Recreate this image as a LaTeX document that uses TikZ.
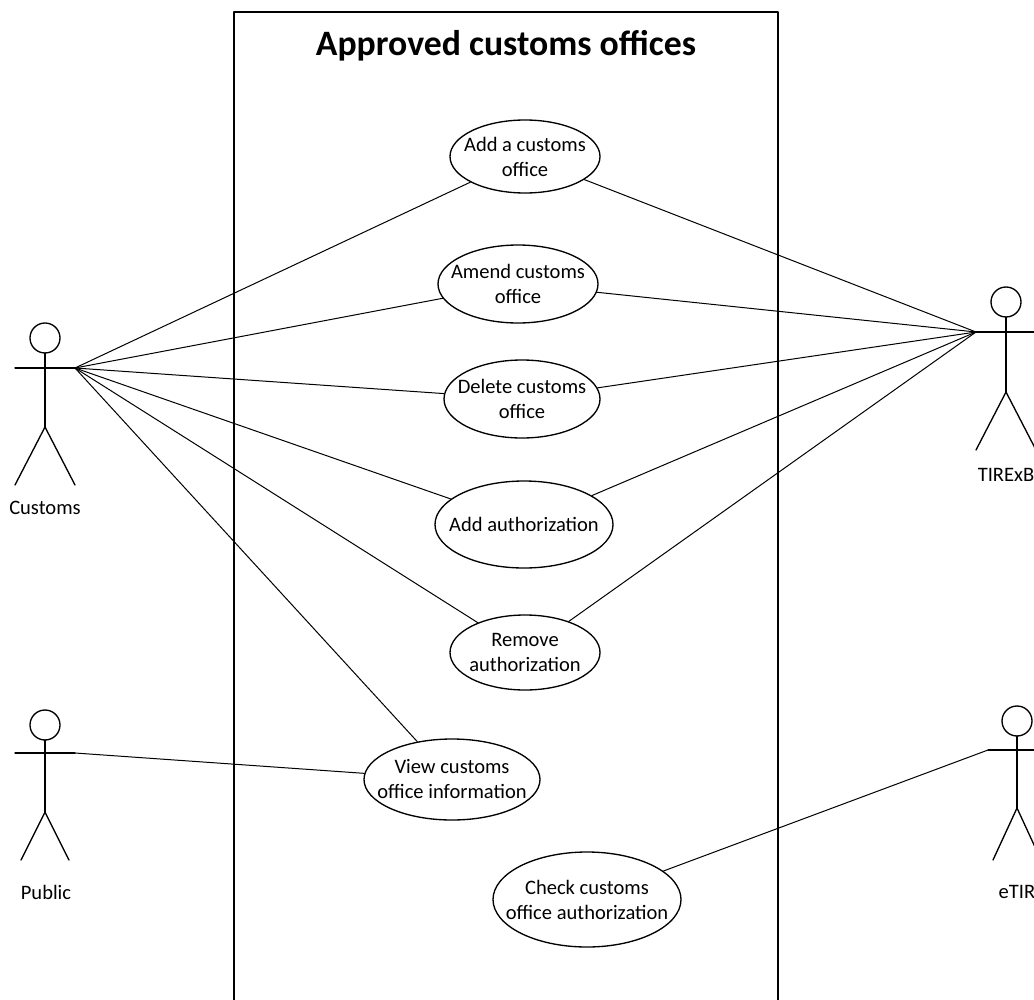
\documentclass[tikz,border=0pt]{standalone}
\usepackage{fontspec}
\setmainfont{Carlito}
\usetikzlibrary{shapes.geometric}
\begin{document}
\begin{tikzpicture}[x=0.75pt,y=-0.75pt,
  line width=0.75pt, line cap=round, line join=round,
  every label/.style={align=center, inner sep=0pt},
  txt/.style={font=\fontsize{15.4}{18.75}\selectfont},
  uc/.style 2 args={draw, ellipse, inner sep=0pt, line width=1pt,
    minimum width=#1*1.5pt, minimum height=#2*1.5pt},
  assoc/.style={line width=0.75pt},
  actor/.style={line width=1pt},
  lbl/.style={txt, inner sep=0pt}]
\clip (0,0) rectangle (1034,999);
\fill[white] (0,0) rectangle (1034,999);
\begin{scope}[txt]
% system boundary
\draw[line width=1.5pt, line cap=butt] (234,1010) -- (234,12) -- (778,12) -- (778,1010);
\node[font=\fontsize{26.8}{32}\selectfont\bfseries, inner sep=0pt] (title) at (506,46) {Approved customs offices};

% use cases
\node[uc={75}{36.5}, label={center:{Add a customs\\office}}] (u1) at (525,156.5) {};
\node[uc={80}{39}, label={center:{Amend customs\\office}}] (u2) at (518,284) {};
\node[uc={78}{39}, label={center:{Delete customs\\office}}] (u3) at (522,399) {};
\node[uc={89}{43.5}, label={center:{Add authorization}}] (u4) at (524,524.5) {};
\node[uc={75}{37.5}, label={center:{Remove\\authorization}}] (u5) at (525,652.5) {};
\node[uc={88}{40.5}, label={center:{View customs\\office information}}] (u6) at (452,779.5) {};
\node[uc={94}{47.5}, label={center:{Check customs\\office authorization}}] (u7) at (587,899.5) {};

% actors
% Customs
\draw[actor] (45,338) circle[radius=15*0.75pt];
\draw[actor] (15,368) -- (75,368);
\draw[actor] (45,353) -- (45,427);
\draw[actor] (15,485) -- (45,427) -- (75,485);
\coordinate (cusR) at (75,368);
\node[lbl] (cusL) at (45,508) {Customs};
% TIRExB
\draw[actor] (1006,302) circle[radius=15*0.75pt];
\draw[actor] (976,332) -- (1036,332);
\draw[actor] (1006,317) -- (1006,392);
\draw[actor] (976,450) -- (1006,392) -- (1036,450);
\coordinate (tirL) at (976,332);
\node[lbl] (tirLab) at (1006,475) {TIRExB};
% Public
\draw[actor] (45,725) circle[radius=15*0.75pt];
\draw[actor] (15,753) -- (75,753);
\draw[actor] (45,740) -- (45,812);
\draw[actor] (21,860) -- (45,812) -- (69,860);
\coordinate (pubR) at (75,753);
\node[lbl] (pubLab) at (46,892) {Public};
% eTIR
\draw[actor] (1017,721) circle[radius=15*0.75pt];
\draw[actor] (988,750) -- (1048,750);
\draw[actor] (1017,736) -- (1017,808);
\draw[actor] (993,860) -- (1017,808) -- (1041,860);
\coordinate (etirL) at (988,750);
\node[lbl] (etirLab) at (1017,892) {eTIR};

% associations
\foreach \u in {u1,u2,u3,u4,u5,u6} \draw[assoc] (cusR) -- (\u);
\foreach \u in {u1,u2,u3,u4,u5} \draw[assoc] (tirL) -- (\u);
\draw[assoc] (pubR) -- (u6);
\draw[assoc] (etirL) -- (u7);
\end{scope}
\end{tikzpicture}
\end{document}
